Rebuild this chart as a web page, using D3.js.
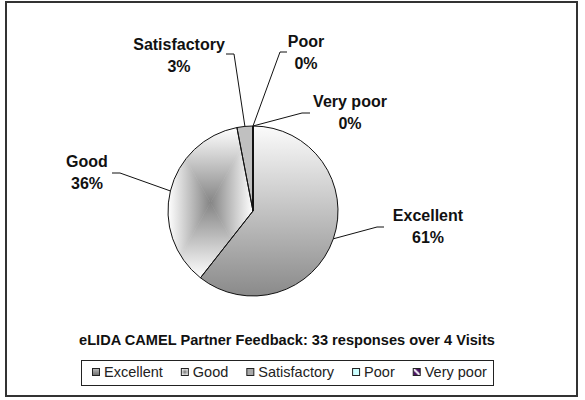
<!DOCTYPE html>
<html>
<head>
<meta charset="utf-8">
<script src="https://cdn.jsdelivr.net/npm/d3@7"></script>
<style>
  body { margin: 0; background: #fff; }
  svg { display: block; font-family: "Liberation Sans", Arial, sans-serif; }
</style>
</head>
<body>
<svg id="chart" width="585" height="400"></svg>
<script>
'use strict'

// data (33 responses)
const categories = ['Excellent', 'Good', 'Satisfactory', 'Poor', 'Very poor']
const counts = [20, 12, 1, 0, 0]
const percentLabels = ['61%', '36%', '3%', '0%', '0%']
const title = 'eLIDA CAMEL Partner Feedback: 33 responses over 4 Visits'

// label anchors (layout only)
const labelAt = [[428, 221], [87, 167], [179, 50], [306, 47], [350, 107]]
const elbowAt = [[384, 227, 377], [112, 173, 120], [226, 54, 234], [287, 52, 280], [310, 113, 302]]

const svg = d3.select('#chart')
const defs = svg.append('defs')

const cx = 253, cy = 211, r = 85

// outer frame
svg.append('rect').attr('x', 6).attr('y', 2).attr('width', 571).attr('height', 394)
    .attr('fill', '#fff').attr('stroke', '#333').attr('stroke-width', 2)

let pie = d3.pie().sort(null).value(d => d)
let arcs = pie(counts)
let arc = d3.arc().innerRadius(0).outerRadius(r)

// Excellent: top-to-bottom gradient (coords local to the translated group)
let gEx = defs.append('linearGradient').attr('id', 'gEx').attr('gradientUnits', 'userSpaceOnUse')
    .attr('x1', 0).attr('x2', 0).attr('y1', -r).attr('y2', r)
gEx.append('stop').attr('offset', 0).attr('stop-color', '#fbfbfb')
gEx.append('stop').attr('offset', 1).attr('stop-color', '#8a8a8a')

let g = svg.append('g').attr('transform', `translate(${cx},${cy})`)

g.append('path').attr('d', arc(arcs[0])).attr('fill', 'url(#gEx)')

// Good: rectangular "from centre" gradient over its bounding box
defs.append('clipPath').attr('id', 'clipGood').append('path').attr('d', arc(arcs[1]))
let goodPath = g.append('path').attr('d', arc(arcs[1])).attr('fill', '#fff')
let bb = goodPath.node().getBBox()
let mx = bb.x + bb.width / 2, my = bb.y + bb.height / 2
let x0 = bb.x, x1 = bb.x + bb.width, y0 = bb.y, y1 = bb.y + bb.height
let tris = [
    { pts: [[mx, my], [x0, y0], [x1, y0]], to: [mx, y0] },
    { pts: [[mx, my], [x0, y1], [x1, y1]], to: [mx, y1] },
    { pts: [[mx, my], [x0, y0], [x0, y1]], to: [x0, my] },
    { pts: [[mx, my], [x1, y0], [x1, y1]], to: [x1, my] }
]
let gg = g.append('g').attr('clip-path', 'url(#clipGood)')
tris.forEach((t, i) => {
    let lg = defs.append('linearGradient').attr('id', 'gGood' + i).attr('gradientUnits', 'userSpaceOnUse')
        .attr('x1', mx).attr('y1', my).attr('x2', t.to[0]).attr('y2', t.to[1])
    lg.append('stop').attr('offset', 0).attr('stop-color', '#858585')
    lg.append('stop').attr('offset', 1).attr('stop-color', '#ffffff')
    gg.append('path').attr('d', d3.line()(t.pts) + 'Z').attr('fill', `url(#gGood${i})`)
        .attr('stroke', `url(#gGood${i})`).attr('stroke-width', 0.6)
})

// Satisfactory
g.append('path').attr('d', arc(arcs[2])).attr('fill', '#c0c0c0')

// outlines
g.selectAll('path.edge').data(arcs).enter().append('path').attr('class', 'edge')
    .attr('d', arc).attr('fill', 'none').attr('stroke', '#111').attr('stroke-width', 1)

// leader lines + labels
arcs.forEach((a, i) => {
    let mid = (a.startAngle + a.endAngle) / 2
    let px = cx + r * Math.sin(mid), py = cy - r * Math.cos(mid)
    let e = elbowAt[i]
    svg.append('polyline')
        .attr('points', [[e[0], e[1]], [e[2], e[1]], [px, py]].map(p => p.join(',')).join(' '))
        .attr('fill', 'none').attr('stroke', '#111').attr('stroke-width', 1)

    let t = svg.append('text').attr('text-anchor', 'middle').attr('font-weight', 'bold')
        .attr('font-size', '16px').attr('fill', '#111')
    t.append('tspan').attr('x', labelAt[i][0]).attr('y', labelAt[i][1]).text(categories[i])
    t.append('tspan').attr('x', labelAt[i][0]).attr('y', labelAt[i][1] + 22).text(percentLabels[i])
})

// title
svg.append('text').attr('x', 287).attr('y', 345).attr('text-anchor', 'middle')
    .attr('font-weight', 'bold').attr('font-size', '14.6px').attr('fill', '#111').text(title)

// legend
let lgEx = defs.append('linearGradient').attr('id', 'lgEx').attr('x1', 0).attr('x2', 0).attr('y1', 0).attr('y2', 1)
lgEx.append('stop').attr('offset', 0).attr('stop-color', '#bdbdbd')
lgEx.append('stop').attr('offset', 1).attr('stop-color', '#6a6a6a')
let lgGood = defs.append('radialGradient').attr('id', 'lgGood')
lgGood.append('stop').attr('offset', 0).attr('stop-color', '#777')
lgGood.append('stop').attr('offset', 1).attr('stop-color', '#eee')
let pat = defs.append('pattern').attr('id', 'lgVp').attr('patternUnits', 'objectBoundingBox')
    .attr('width', 1).attr('height', 1)
pat.append('rect').attr('width', 8).attr('height', 8).attr('fill', '#4b1366')
pat.append('path').attr('d', 'M0,0 L8,8').attr('stroke', '#fff').attr('stroke-width', 2)

const swatch = ['url(#lgEx)', 'url(#lgGood)', '#a8a8a8', '#ccffff', 'url(#lgVp)']

svg.append('rect').attr('x', 81.5).attr('y', 360.5).attr('width', 412).attr('height', 25)
    .attr('fill', '#fff').attr('stroke', '#222').attr('stroke-width', 1)

let lx = 92
categories.forEach((c, i) => {
    svg.append('rect').attr('x', lx + 0.5).attr('y', 368.5).attr('width', 7).attr('height', 7)
        .attr('fill', swatch[i]).attr('stroke', '#222').attr('stroke-width', 1)
    let t = svg.append('text').attr('x', lx + 12).attr('y', 377).attr('font-size', '14.5px')
        .attr('fill', '#222').text(c)
    lx += 12 + t.node().getComputedTextLength() + 18
})
</script>
</body>
</html>
